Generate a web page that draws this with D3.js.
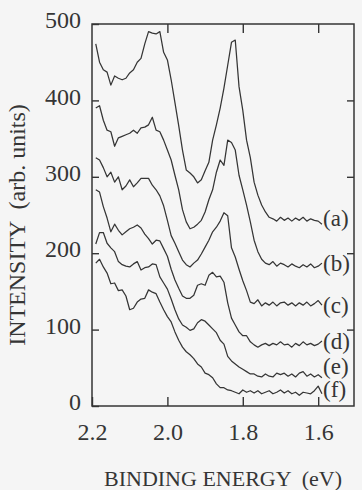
<!DOCTYPE html>
<html><head><meta charset="utf-8">
<script src="https://cdn.jsdelivr.net/npm/d3@7"></script>
<style>html,body{margin:0;padding:0;background:#f5f5f5;} svg{display:block;}</style>
</head><body><svg id="chart" width="362" height="490"></svg>
<script>
const energies = [2.19,2.18,2.17,2.16,2.15,2.14,2.13,2.12,2.11,2.10,2.09,2.08,2.07,2.06,2.05,2.04,2.03,2.02,2.01,2.00,
  1.99,1.98,1.97,1.96,1.95,1.94,1.93,1.92,1.91,1.90,1.89,1.88,1.87,1.86,1.85,1.84,1.83,1.82,1.81,1.80,
  1.79,1.78,1.77,1.76,1.75,1.74,1.73,1.72,1.71,1.70,1.69,1.68,1.67,1.66,1.65,1.64,1.63,1.62,1.61,1.60,1.59];
const seriesA = [474,450,440,437,420,432,429,427,429,436,440,450,455,474,490,488,487,490,463,453,
  427,397,367,335,309,305,300,292,296,308,319,348,368,390,416,446,476,479,418,387,
  348,325,293,276,263,254,247,245,242,247,243,246,242,246,243,247,242,245,243,242,238];
const seriesB = [390,393,374,361,359,340,351,353,355,357,361,357,364,365,368,378,361,359,348,335,
  322,302,283,257,241,232,234,238,243,254,270,283,306,322,315,348,345,335,302,283,
  263,241,217,202,192,187,185,189,183,187,185,182,186,183,181,185,182,186,181,183,187];
const seriesC = [325,322,312,300,306,293,300,283,288,296,287,292,298,298,298,289,283,275,262,243,
  223,213,202,191,185,182,187,191,199,208,217,228,234,242,253,249,207,195,179,164,
  151,136,134,139,131,135,132,136,131,135,136,132,135,131,135,132,136,131,134,138,132];
const seriesD = [283,280,261,246,228,238,230,224,228,232,234,237,233,225,219,212,217,216,206,196,
  179,165,154,144,141,141,145,158,160,158,171,175,169,170,162,135,115,106,97,92,
  92,84,80,77,80,82,79,82,80,84,80,81,77,82,79,84,80,82,79,81,85];
const seriesE = [212,227,227,213,207,202,189,185,183,182,186,189,178,181,182,186,185,169,161,153,
  140,126,114,106,103,99,101,109,113,111,106,101,96,86,81,65,59,55,51,48,
  45,42,42,39,38,42,39,38,43,41,43,39,42,38,43,45,39,42,38,41,37];
const seriesF = [187,192,182,174,160,161,151,152,144,126,128,136,140,141,152,149,147,136,126,117,
  110,97,86,77,71,67,62,55,51,43,41,37,29,24,24,21,20,18,16,21,
  18,20,17,20,16,18,20,16,18,21,17,20,16,18,14,18,17,16,20,26,16];
const seriesLabels = ["(a)","(b)","(c)","(d)","(e)","(f)"];
const labelLevels = [246,186,132,85,52,22];
const yTicks = [0,100,200,300,400,500];
const xTicks = [2.2,2.0,1.8,1.6];

const allSeries = [seriesA,seriesB,seriesC,seriesD,seriesE,seriesF];
const svg = d3.select("#chart");
const L=92,T=24,R=354,B=406;
const x = d3.scaleLinear().domain([2.2,1.505]).range([L,R]);
const y = d3.scaleLinear().domain([0,500]).range([B,T]);
const ink="#353535";
const font="'Liberation Serif','Times New Roman',serif";

svg.append("rect").attr("width",362).attr("height",490).attr("fill","#f5f5f5");

const line = d3.line().x((d,i)=>x(energies[i])).y(d=>y(d));
allSeries.forEach(s=>{
  svg.append("path").datum(s).attr("d",line).attr("fill","none")
    .attr("stroke",ink).attr("stroke-width",1.25).attr("stroke-linejoin","round");
});

// axes
const gl = svg.append("g").attr("transform",`translate(${L},0)`)
  .call(d3.axisLeft(y).tickValues(yTicks).tickSizeInner(-7).tickSizeOuter(0).tickPadding(11));
const gr = svg.append("g").attr("transform",`translate(${R},0)`)
  .call(d3.axisRight(y).tickValues([100,200,300,400]).tickSizeInner(-7).tickSizeOuter(0).tickFormat(""));
const gb = svg.append("g").attr("transform",`translate(0,${B})`)
  .call(d3.axisBottom(x).tickValues(xTicks).tickFormat(d3.format(".1f")).tickSizeInner(-9).tickSizeOuter(0).tickPadding(17));
const gt = svg.append("g").attr("transform",`translate(0,${T})`)
  .call(d3.axisTop(x).tickValues([2.0,1.8,1.6]).tickSizeInner(-9).tickSizeOuter(0).tickFormat(""));
[gl,gr,gb,gt].forEach(g=>{
  g.select(".domain").remove();
  g.selectAll(".tick line").attr("stroke",ink).attr("stroke-width",1.4);
  g.selectAll(".tick text").attr("fill",ink).style("font-family",font).style("font-size","24px");
});
gl.selectAll(".tick text").attr("dy","0.15em");

svg.append("rect").attr("x",L).attr("y",T).attr("width",R-L).attr("height",B-T)
  .attr("fill","none").attr("stroke",ink).attr("stroke-width",1.5);

// series labels
seriesLabels.forEach((t,i)=>{
  svg.append("text").attr("x",x(1.587)).attr("y",y(labelLevels[i])).attr("dy","0.33em")
    .attr("fill",ink).style("font-family",font).style("font-size","23px").text(t);
});

// axis titles
svg.append("text").attr("x",104).attr("y",486).attr("fill",ink)
  .style("font-family",font).style("font-size","22px").style("white-space","pre")
  .attr("xml:space","preserve").text("BINDING ENERGY  (eV)");
svg.append("text").attr("transform","translate(25,225) rotate(-90)").attr("text-anchor","middle")
  .attr("fill",ink).style("font-family",font).style("font-size","24px").style("white-space","pre")
  .attr("xml:space","preserve").text("INTENSITY  (arb. units)");
</script></body></html>
